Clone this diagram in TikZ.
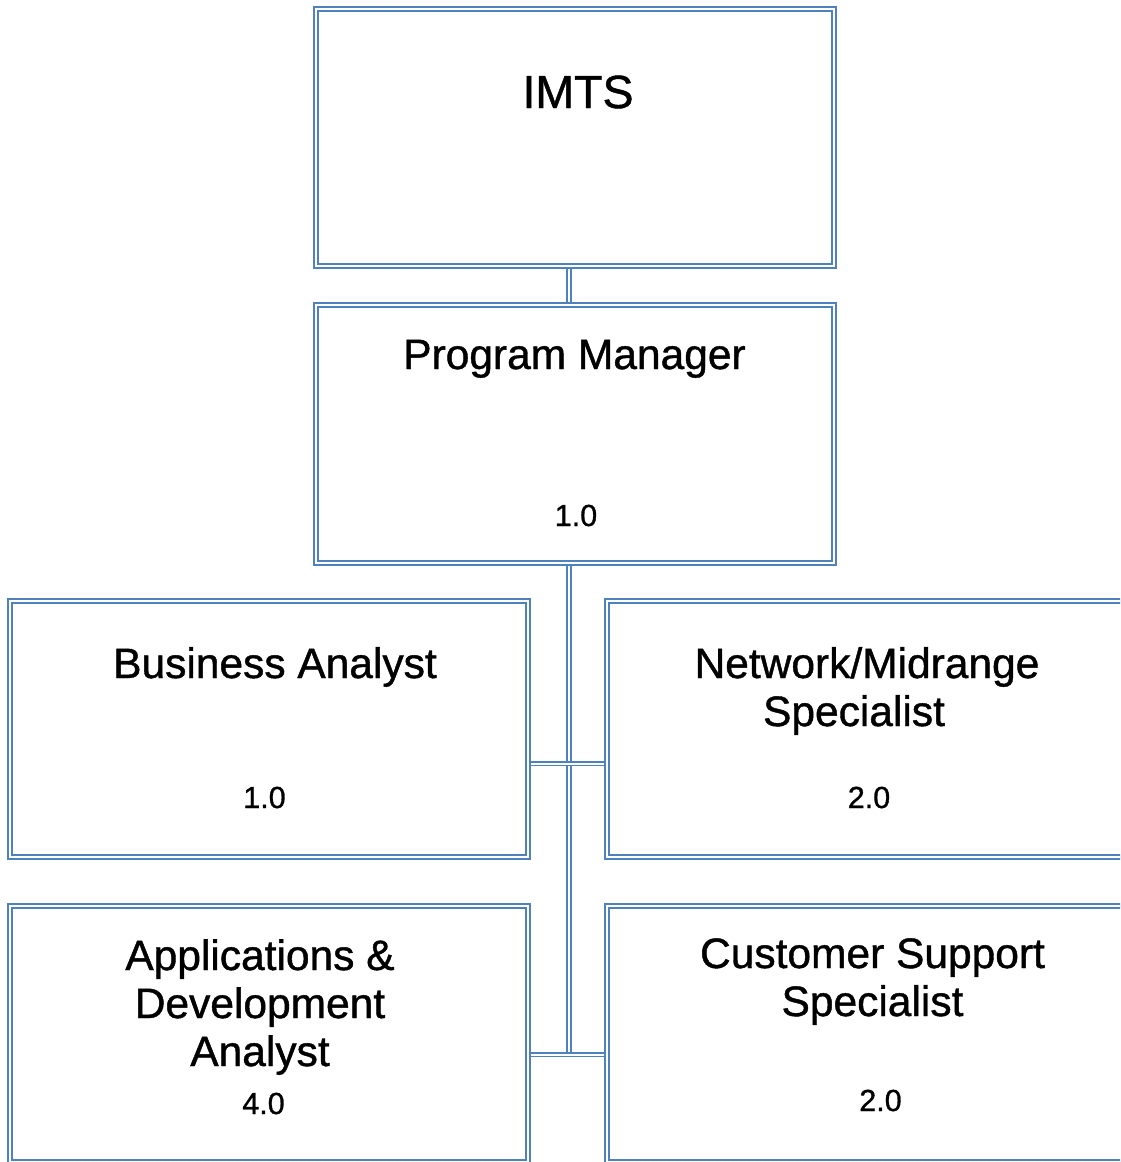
\documentclass[tikz,border=0pt]{standalone}
\usepackage{fontspec}
\setmainfont{Liberation Sans}[FakeBold=1]
\definecolor{boxblue}{RGB}{79,129,189}
\tikzset{
  post/.style={draw=boxblue, double=white, line width=2.1pt, double distance=2pt,
    inner sep=0pt, outer sep=3pt, minimum width=518pt, minimum height=256pt},
  link/.style={draw=boxblue, double=white, line width=1.6pt, double distance=2pt},
  head/.style={font=\fontsize{46.5}{53}\selectfont, anchor=base},
  title/.style={font=\fontsize{42.5}{48}\selectfont, align=center, anchor=base},
  fte/.style={font=\fontsize{30.5}{34}\selectfont, anchor=base}
}
\begin{document}
\begin{tikzpicture}[x=1pt, y=-1pt]
    \useasboundingbox (0,0) rectangle (1120,1162);
    \clip (0,0) rectangle (1120,1162);

    % boxes
    \node[post, minimum height=257pt] (imts) at (575,137.5) {};
    \node[post, minimum height=258pt] (pm)   at (575,434) {};
    \node[post] (ba) at (269,729) {};
    \node[post] (nm) at (866,729) {};
    \node[post] (ad) at (269,1034) {};
    \node[post] (cs) at (866,1034) {};

    % spine and junctions
    \coordinate (spine) at (569,0);
    \coordinate (j1) at (569,763.5);
    \coordinate (j2) at (569,1054.5);

    % connectors
    \draw[link] (imts.south -| spine) -- (pm.north -| spine);
    \draw[link] (pm.south -| spine) -- (j2);
    \draw[link] (ba.east |- j1) -- (nm.west |- j1);
    \draw[link] (ad.east |- j2) -- (cs.west |- j2);

    % labels (multi-line ones sit on their last baseline)
    \node[head] (timts) at (578,108) {IMTS};
    \node[title] (tpm) at (574.5,369) {Program Manager};
    \node[fte] (npm) at (576,526) {1.0};
    \node[title] (tba) at (275,678) {Business Analyst};
    \node[fte] (nba) at (264.5,808) {1.0};
    \node[title] (tnm) at (867,678) {Network/Midrange};
    \node[title] (tnm2) at (854,726) {Specialist};
    \node[fte] (nnm) at (869,808) {2.0};
    \node[title] (tad) at (260,1066) {Applications \&\\Development\\Analyst};
    \node[fte] (nad) at (263.5,1114) {4.0};
    \node[title] (tcs) at (872.5,1016) {Customer Support\\Specialist};
    \node[fte] (ncs) at (880.5,1111) {2.0};
\end{tikzpicture}
\end{document}
